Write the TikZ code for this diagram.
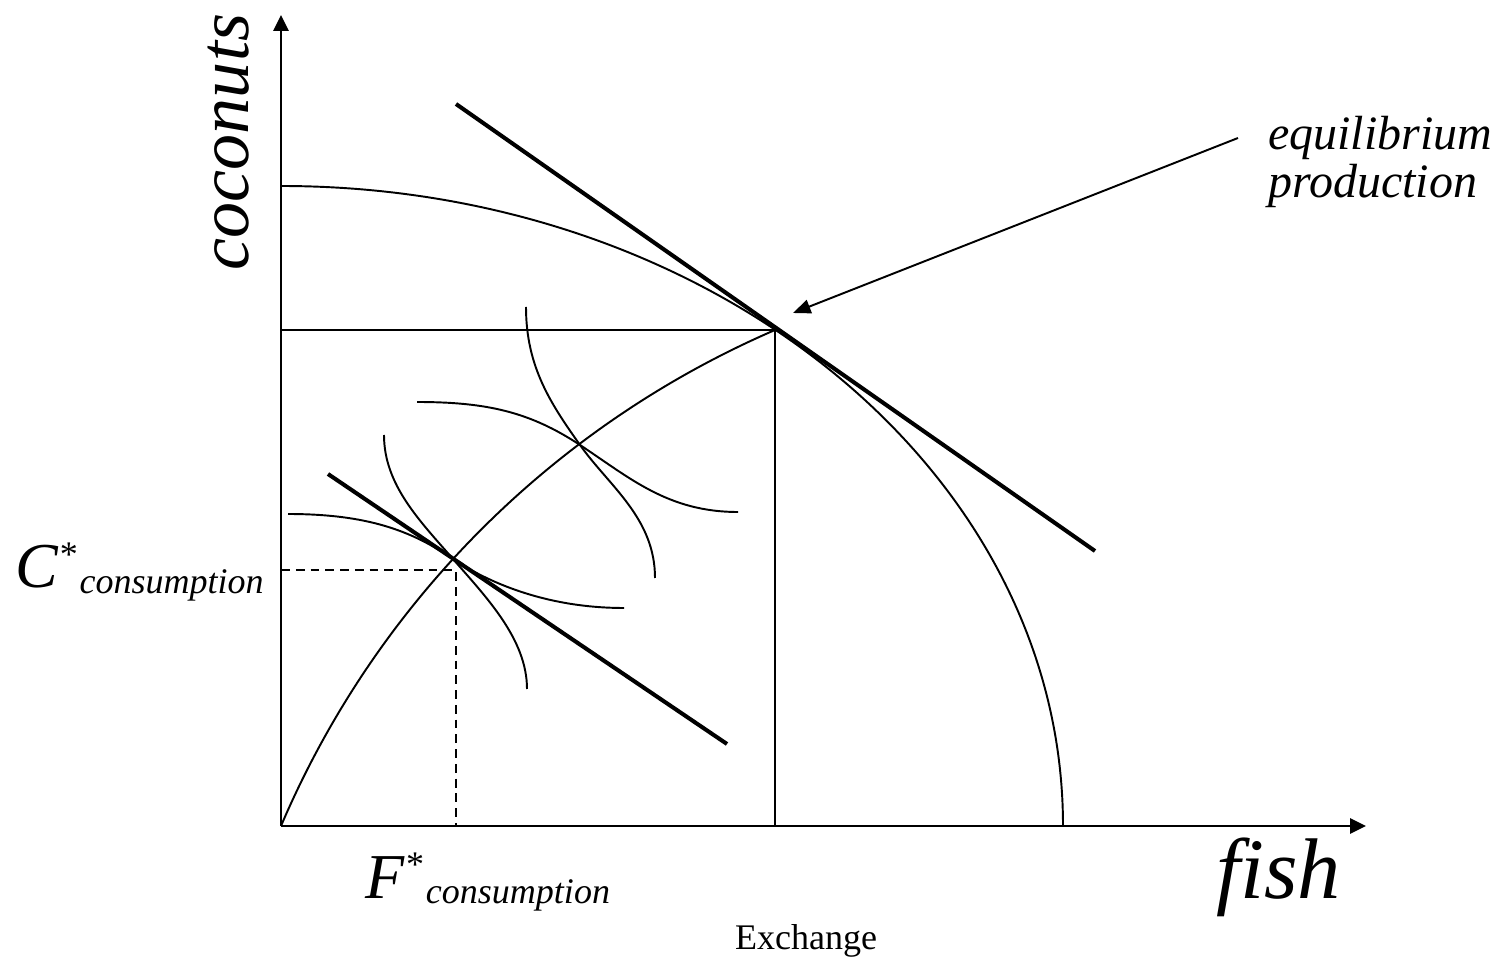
\documentclass[tikz,border=0pt]{standalone}
\usepackage{fontspec}
\setmainfont{Liberation Serif}
\usetikzlibrary{arrows.meta}

\newcommand\starlabel[1]{{\fontsize{36.4}{37}\selectfont\itshape #1}%
  {\fontsize{20.5}{21}\selectfont\kern1pt\raisebox{12pt}{*}\hspace{1pt}\raisebox{-3pt}{\itshape consumption}}}

\begin{document}
\begin{tikzpicture}[x=0.02cm, y=0.02cm,
  axis/.style={line width=1.4pt, -{Triangle[length=9pt,width=8.5pt]}},
  curve/.style={line width=1.1pt},
  heavy/.style={line width=2.3pt},
  guide/.style={line width=1.1pt, dash pattern=on 5pt off 3.4pt},
  pointer/.style={line width=1.1pt, -{Triangle[length=10pt,width=8pt]}},
  lbl/.style={inner sep=0pt, anchor=base west}
]
\useasboundingbox (0,0) rectangle (1502,961);

% axes
\coordinate (O) at (281,135);
\coordinate (ytop) at (281,946);
\coordinate (xend) at (1366,135);
\draw[axis] (O) -- (ytop);
\draw[axis] (O) -- (xend);

% production possibility frontier
\coordinate (ptop) at (281,775);
\coordinate (pend) at (1063,135);
\coordinate (E) at (775,631);
\draw[curve] (ptop) .. controls (713,775) and (1063,489) .. (pend);

% price line through equilibrium production
\coordinate (t1) at (456,857);
\coordinate (t2) at (1095,410);
\draw[heavy] (t1) -- (t2);
\draw[curve] (O |- E) -- (E) -- (E |- O);

% trade curve
\draw[curve] (O) .. controls (376,358) and (553,535) .. (E);

% consumption point
\coordinate (cons) at (453,402);
\coordinate (cdash) at (456,391);
\draw[guide] (O |- cdash) -- (cdash) -- (cdash |- O);
\coordinate (b1) at (328,487);
\coordinate (b2) at (727,217);
\draw[heavy] (b1) -- (b2);

% indifference curves
\coordinate (cross) at (580,516);
\draw[curve] (526,654) .. controls (526,594) and (551,557) .. (cross)
  .. controls (609,475) and (655,443) .. (655,383);
\draw[curve] (417,559) .. controls (487,559) and (530,549) .. (cross)
  .. controls (630,483) and (668,449) .. (738,449);
\draw[curve] (384,526) .. controls (384,476) and (420,440) .. (cons)
  .. controls (486,364) and (527,322) .. (527,272);
\draw[curve] (288,447) .. controls (368,447) and (412,430) .. (cons)
  .. controls (486,380) and (544,353) .. (624,353);

% labels
\node[rotate=90, font=\fontsize{41}{41}\selectfont\itshape] (coco) at (229,819) {coconuts};
\node[lbl, font=\fontsize{49}{49}\selectfont\itshape] (fish) at (1216,63) {fish};
\node[lbl] (clbl) at (15,373) {\starlabel{C}};
\node[lbl] (flbl) at (365,63) {\starlabel{F}};
\node[inner sep=0pt, anchor=north west, align=left,
  font=\fontsize{27.3}{27}\selectfont\itshape] (eq) at (1268,845) {equilibrium\\production};
\node[inner sep=0pt, anchor=base, font=\fontsize{20.5}{21}\selectfont] (exch) at (806,12) {Exchange};

\coordinate (ptail) at (1238,823);
\coordinate (ptip) at (793,648);
\draw[pointer] (ptail) -- (ptip);
\end{tikzpicture}
\end{document}
